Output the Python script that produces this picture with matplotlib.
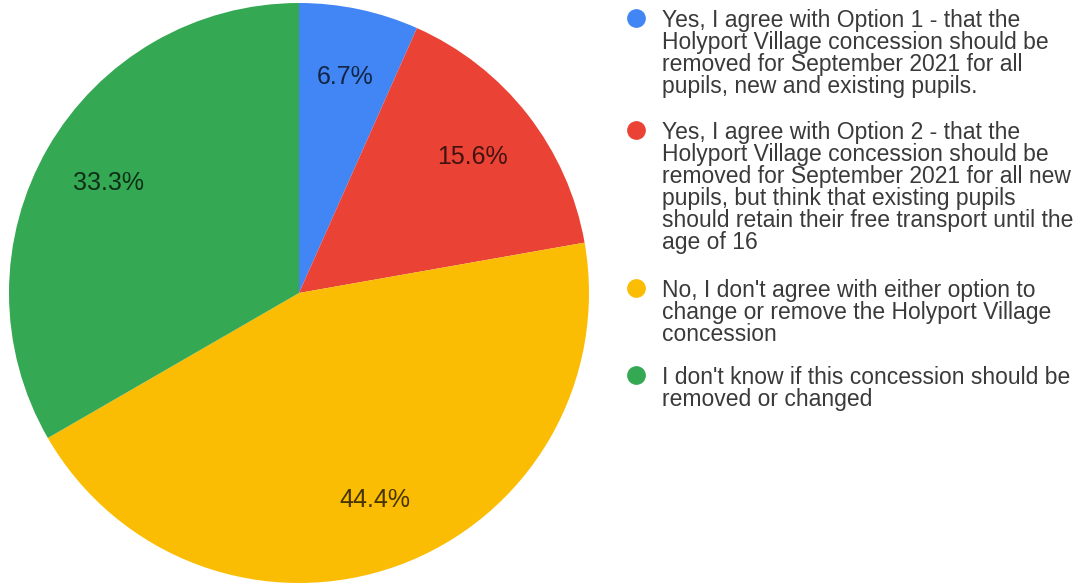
import matplotlib.pyplot as plt
from matplotlib.lines import Line2D

# Survey responses (counts) and legend texts
counts = [3, 7, 20, 15]
colors = ['#4285F4', '#EA4335', '#FBBC04', '#34A853']
labels = [
    "Yes, I agree with Option 1 - that the\nHolyport Village concession should be\nremoved for September 2021 for all\npupils, new and existing pupils.",
    "Yes, I agree with Option 2 - that the\nHolyport Village concession should be\nremoved for September 2021 for all new\npupils, but think that existing pupils\nshould retain their free transport until the\nage of 16",
    "No, I don't agree with either option to\nchange or remove the Holyport Village\nconcession",
    "I don't know if this concession should be\nremoved or changed",
]

plt.rcParams['font.family'] = ['Liberation Sans', 'DejaVu Sans']

W, H = 1082, 585
fig = plt.figure(figsize=(W / 100, H / 100), dpi=100)

# pie axes, placed in pixel units
cx, cy, r = 299, 293, 290
ax = fig.add_axes([(cx - r) / W, (H - cy - r) / H, 2 * r / W, 2 * r / H])
wedges, texts, autotexts = ax.pie(
    counts, colors=colors, startangle=90, counterclock=False,
    autopct='%1.1f%%', pctdistance=0.76, radius=1,
    wedgeprops=dict(linewidth=0),
    textprops=dict(fontsize=18, color='black', alpha=0.72),
)
ax.set_xlim(-1, 1)
ax.set_ylim(-1, 1)
ax.set_aspect('equal')
ax.axis('off')

# legend on the right, one block of text per answer
first_line_y = [18, 130, 288, 375]
for lab, col, y in zip(labels, colors, first_line_y):
    fig.add_artist(Line2D([636 / W], [1 - y / H], marker='o', markersize=13.5,
                          color=col, markeredgewidth=0, transform=fig.transFigure))
    fig.text(662 / W, 1 - (y - 9) / H, lab, fontsize=16.5, color='#3a3a3a',
             va='top', ha='left', linespacing=0.95)

fig.savefig('out.png', dpi=100)
